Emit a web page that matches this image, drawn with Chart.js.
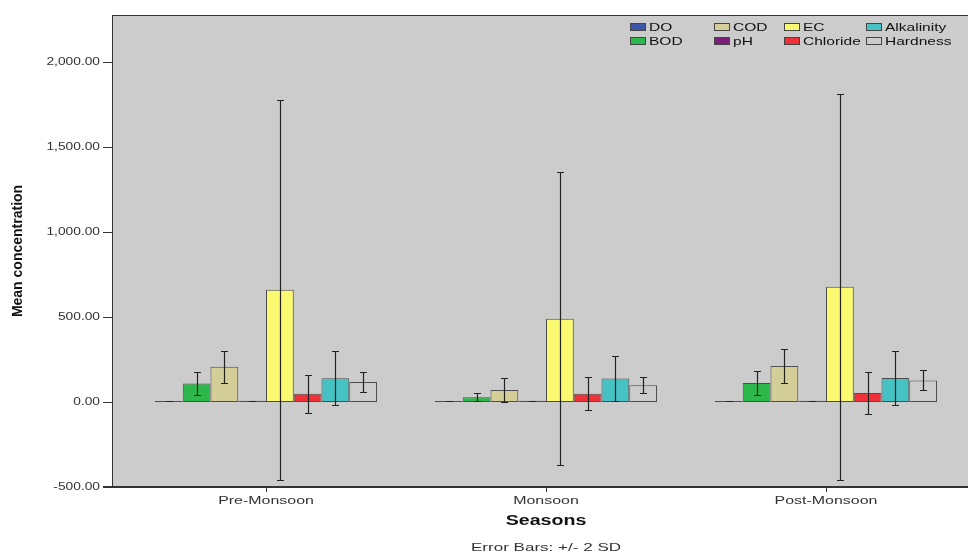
<!DOCTYPE html>
<html>
<head>
<meta charset="utf-8">
<script src="https://cdn.jsdelivr.net/npm/chart.js@4"></script>
<style>
  html, body { margin: 0; padding: 0; background: #ffffff; }
  canvas { display: block; }
</style>
</head>
<body>
<canvas id="chart" width="968" height="556"></canvas>
<script>
// seasons on the x axis
const seasons = ['Pre-Monsoon', 'Monsoon', 'Post-Monsoon'];

// mean concentration per parameter (Pre, Monsoon, Post)
const doMean = [6.4, 5.8, 6.1];
const bodMean = [108, 28, 112];
const codMean = [207, 70, 212];
const phMean = [7.6, 7.3, 7.5];
const ecMean = [660, 490, 678];
const chlorideMean = [48, 48, 53];
const alkalinityMean = [140, 138, 141];
const hardnessMean = [118, 99, 127];

// error bars: +/- 2 SD
const doErr = [2.2, 2.0, 2.1];
const bodErr = [67, 25, 70];
const codErr = [93, 70, 102];
const phErr = [0.8, 0.7, 0.8];
const ecErr = [1116, 862, 1134];
const chlorideErr = [113, 97, 122];
const alkalinityErr = [158, 134, 159];
const hardnessErr = [58, 46, 59];

const yTicks = [-500, 0, 500, 1000, 1500, 2000];

const FONT = "'Liberation Sans', Arial, sans-serif";
const PLOT_BG = '#cccccc';
const LINE = '#333333';

function series(label, data, err, color) {
  return {
    label: label,
    data: data,
    errors: err,
    backgroundColor: color,
    borderColor: '#4d4d4d',
    borderWidth: 1,
    borderSkipped: false,
    categoryPercentage: 0.793,
    barPercentage: 1.0
  };
}

const datasets = [
  series('DO', doMean, doErr, '#3d55a8'),
  series('BOD', bodMean, bodErr, '#2cb84a'),
  series('COD', codMean, codErr, '#d4cf98'),
  series('pH', phMean, phErr, '#7b1f7c'),
  series('EC', ecMean, ecErr, '#fbf970'),
  series('Chloride', chlorideMean, chlorideErr, '#ef3138'),
  series('Alkalinity', alkalinityMean, alkalinityErr, '#46c1c4'),
  series('Hardness', hardnessMean, hardnessErr, PLOT_BG)
];

// the original export is stretched sideways, so its text is too
function wideText(ctx, text, x, y, align, sx) {
  ctx.save();
  ctx.translate(x, y);
  ctx.scale(sx, 1);
  ctx.textAlign = align;
  ctx.fillText(text, 0, 0);
  ctx.restore();
}

function fmt(v) {
  return Number(v).toLocaleString('en-US', { minimumFractionDigits: 2, maximumFractionDigits: 2 });
}

// gray panel, frame, tick labels, error bars, legend and footnote
const spssStyle = {
  id: 'spssStyle',
  beforeDraw(chart) {
    const ctx = chart.ctx;
    const a = chart.chartArea;
    ctx.save();
    ctx.fillStyle = PLOT_BG;
    ctx.fillRect(112, a.top, chart.width - 112, a.bottom - a.top);
    ctx.restore();
  },
  afterDatasetsDraw(chart) {
    const ctx = chart.ctx;
    const y = chart.scales.y;
    ctx.save();
    ctx.strokeStyle = '#222222';
    ctx.lineWidth = 1.2;
    chart.data.datasets.forEach((ds, i) => {
      const meta = chart.getDatasetMeta(i);
      meta.data.forEach((bar, j) => {
        const m = ds.data[j];
        const e = ds.errors[j];
        const x = Math.round(bar.x) + 0.5;
        const yHi = Math.round(y.getPixelForValue(m + e)) + 0.5;
        const yLo = Math.round(y.getPixelForValue(m - e)) + 0.5;
        ctx.beginPath();
        ctx.moveTo(x, yHi);
        ctx.lineTo(x, yLo);
        ctx.moveTo(x - 3.5, yHi);
        ctx.lineTo(x + 3.5, yHi);
        ctx.moveTo(x - 3.5, yLo);
        ctx.lineTo(x + 3.5, yLo);
        ctx.stroke();
      });
    });
    ctx.restore();
  },
  afterDraw(chart) {
    const ctx = chart.ctx;
    const a = chart.chartArea;
    const x = chart.scales.x;
    const y = chart.scales.y;
    ctx.save();
    ctx.strokeStyle = LINE;
    ctx.lineWidth = 1;
    ctx.beginPath();
    ctx.moveTo(112, a.top + 0.5);
    ctx.lineTo(chart.width, a.top + 0.5);
    ctx.moveTo(112.5, a.top);
    ctx.lineTo(112.5, a.bottom);
    ctx.stroke();
    ctx.lineWidth = 2;
    ctx.beginPath();
    ctx.moveTo(103, a.bottom);
    ctx.lineTo(chart.width, a.bottom);
    ctx.stroke();
    ctx.lineWidth = 1;
    ctx.beginPath();
    y.ticks.forEach(t => {
      const py = Math.round(y.getPixelForValue(t.value)) + 0.5;
      ctx.moveTo(103, py);
      ctx.lineTo(112, py);
    });
    ctx.stroke();

    // tick labels
    ctx.fillStyle = '#333333';
    ctx.font = '11px ' + FONT;
    ctx.textBaseline = 'middle';
    y.ticks.forEach(t => {
      wideText(ctx, fmt(t.value), 100, y.getPixelForValue(t.value), 'right', 1.25);
    });
    x.ticks.forEach((t, i) => {
      wideText(ctx, seasons[t.value], x.getPixelForTick(i), 501, 'center', 1.45);
    });

    // x axis title and footnote
    ctx.fillStyle = '#111111';
    ctx.font = 'bold 14px ' + FONT;
    wideText(ctx, 'Seasons', (a.left + a.right) / 2, 521, 'center', 1.4);
    ctx.fillStyle = '#333333';
    ctx.font = '11px ' + FONT;
    wideText(ctx, 'Error Bars: +/- 2 SD', (a.left + a.right) / 2, 548, 'center', 1.55);

    // legend, laid out column by column
    const colX = [630, 714, 784, 866];
    const rowY = [27, 41];
    ctx.font = '11.5px ' + FONT;
    chart.data.datasets.forEach((ds, i) => {
      const cx = colX[Math.floor(i / 2)];
      const cy = rowY[i % 2];
      ctx.fillStyle = ds.backgroundColor;
      ctx.fillRect(cx, cy - 4, 16, 8);
      ctx.strokeStyle = '#444444';
      ctx.strokeRect(cx + 0.5, cy - 3.5, 15, 7);
      ctx.fillStyle = '#111111';
      wideText(ctx, ds.label, cx + 19, cy + 1, 'left', 1.35);
    });
    ctx.restore();
  }
};

const ctx = document.getElementById('chart').getContext('2d');
new Chart(ctx, {
  type: 'bar',
  data: {
    labels: seasons,
    datasets: datasets
  },
  options: {
    responsive: false,
    animation: false,
    layout: { padding: { top: 15, right: 2, bottom: 0, left: 0 } },
    plugins: {
      legend: { display: false },
      tooltip: { enabled: false }
    },
    scales: {
      x: {
        offset: true,
        grid: { display: true, drawOnChartArea: false, offset: false, tickLength: 5, color: LINE },
        border: { display: false },
        ticks: { display: false },
        afterFit: s => {
          s.height = 69;
          s.paddingLeft = 0;
          s.paddingRight = 0;
        }
      },
      y: {
        min: -500,
        max: 2276,
        grid: { display: false },
        border: { display: false },
        afterBuildTicks: s => { s.ticks = yTicks.map(v => ({ value: v })); },
        ticks: { display: false },
        title: {
          display: true,
          text: 'Mean concentration',
          color: '#111111',
          font: { family: "'Liberation Sans Narrow', " + FONT, size: 14, weight: 'bold' },
          padding: { top: 10, bottom: 10 }
        },
        afterFit: s => {
          s.width = 126;
          s.paddingTop = 0;
          s.paddingBottom = 0;
        }
      }
    }
  },
  plugins: [spssStyle]
});
</script>
</body>
</html>
